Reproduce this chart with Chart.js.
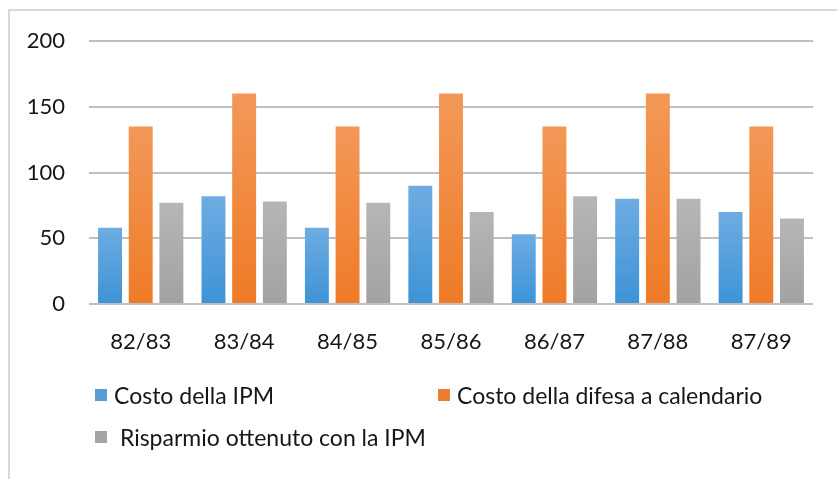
<!DOCTYPE html>
<html>
<head>
<meta charset="utf-8">
<script src="https://cdn.jsdelivr.net/npm/chart.js@4.4.1/dist/chart.umd.min.js"></script>
<style>
    body { margin: 0; background: #fff; }
    #wrap { position: relative; width: 837px; height: 479px; overflow: hidden; font-family: Lato, 'Open Sans', sans-serif; }
    #frame { position: absolute; left: 8px; top: 9px; right: -4px; bottom: -4px; border-top: 2px solid #dcd6d6; border-left: 2px solid #dcd6d6; }
    #chart { position: absolute; left: 0; top: 0; }
    .legend-item { position: absolute; display: flex; align-items: center; height: 28px; font-size: 23px; color: #161616; white-space: pre; }
    .legend-item span.box { display: inline-block; width: 12px; height: 12px; margin-right: 7px; }
    .legend-item:nth-child(1) { left: 95px; top: 381px; }
    .legend-item:nth-child(2) { left: 438px; top: 381px; }
    .legend-item:nth-child(3) { left: 95px; top: 423px; }
</style>
</head>
<body>
<div id="wrap">
    <div id="frame"></div>
    <canvas id="chart" width="837" height="479"></canvas>
    <div id="legend"></div>
</div>
<script>
const stagioni = ['82/83', '83/84', '84/85', '85/86', '86/87', '87/88', '87/89'];
const costoIpm = [58, 82, 58, 90, 53, 80, 70];
const costoCalendario = [135, 160, 135, 160, 135, 160, 135];
const risparmioIpm = [77, 78, 77, 70, 82, 80, 65];
const yTicks = [0, 50, 100, 150, 200];

// colore base + sfumatura (chiaro in alto, scuro in basso)
const palette = [
    { base: '#5b9bd5', top: '#6eace2', bottom: '#3d93d6' },
    { base: '#ed7d31', top: '#f39858', bottom: '#ee7b27' },
    { base: '#a5a5a5', top: '#b6b6b6', bottom: '#a2a2a2' }
];

function barGradient(p) {
    return function (ctx) {
        const chart = ctx.chart;
        const y = chart.scales.y;
        if (!chart.chartArea || !y || ctx.raw == null) return p.base;
        const top = y.getPixelForValue(ctx.raw);
        const bottom = y.getPixelForValue(0);
        if (!isFinite(top) || bottom - top < 1) return p.base;
        const g = chart.ctx.createLinearGradient(0, top, 0, bottom);
        g.addColorStop(0, p.top);
        g.addColorStop(1, p.bottom);
        return g;
    };
}

const tickFont = { family: 'Lato', size: 22 };

const chart = new Chart(document.getElementById('chart'), {
    type: 'bar',
    data: {
        labels: stagioni,
        datasets: [
            { label: 'Costo della IPM', data: costoIpm, backgroundColor: barGradient(palette[0]) },
            { label: 'Costo della difesa a calendario', data: costoCalendario, backgroundColor: barGradient(palette[1]) },
            { label: ' Risparmio ottenuto con la IPM', data: risparmioIpm, backgroundColor: barGradient(palette[2]) }
        ]
    },
    options: {
        responsive: false,
        animation: false,
        categoryPercentage: 0.89,
        barPercentage: 0.78,
        layout: { padding: { top: 41, right: 24, bottom: 110, left: 0 } },
        plugins: { legend: { display: false }, tooltip: { enabled: false } },
        scales: {
            x: {
                grid: { display: false },
                border: { display: false },
                ticks: { font: tickFont, color: '#161616', padding: 17 },
                afterFit: scale => { scale.height = 65; }
            },
            y: {
                min: 0,
                max: 200,
                afterBuildTicks: scale => { scale.ticks = yTicks.map(v => ({ value: v })); },
                afterFit: scale => { scale.width = 89; },
                grid: { color: '#c4bebe', lineWidth: 2, drawTicks: false },
                border: { display: false },
                ticks: { font: tickFont, color: '#161616', padding: 24 }
            }
        }
    }
});

// legenda in HTML, due colonne
const legendBox = document.getElementById('legend');
chart.data.datasets.forEach((ds, i) => {
    const item = document.createElement('div');
    item.className = 'legend-item';
    const box = document.createElement('span');
    box.className = 'box';
    box.style.background = palette[i].base;
    item.appendChild(box);
    item.appendChild(document.createTextNode(ds.label));
    legendBox.appendChild(item);
});
</script>
</body>
</html>
